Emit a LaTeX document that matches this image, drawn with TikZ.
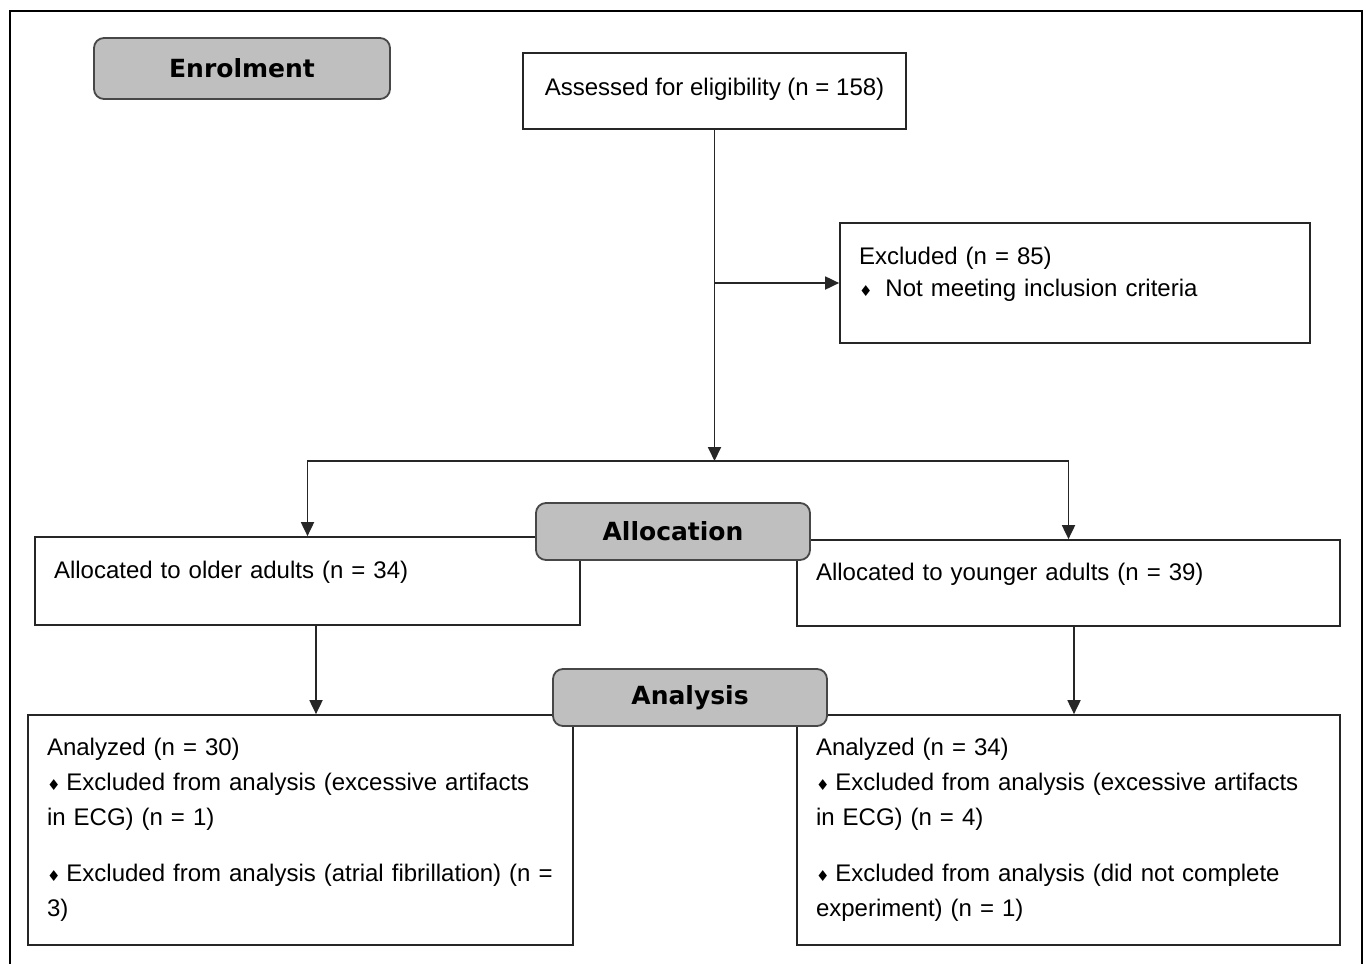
\documentclass[tikz,border=0pt]{standalone}
\usepackage{fontspec}
\setmainfont{Liberation Sans}
\newfontfamily\headfont{DejaVu Sans}
\newfontfamily\symfont{DejaVu Sans}
\usetikzlibrary{arrows.meta}
\definecolor{linegray}{HTML}{262626}
\definecolor{phasegray}{HTML}{BFBFBF}
\newcommand{\dmd}{{\symfont\fontsize{15}{15}\selectfont\raisebox{0.5pt}{\char"2666}}}

\begin{document}
\begin{tikzpicture}[
  x=1pt, y=-1pt,
  font=\fontsize{24}{35}\selectfont,
  >={Triangle[length=14pt,width=13pt]},
  box/.style={draw=linegray, line width=1.7pt, fill=white, align=left,
              inner xsep=19pt, inner ysep=0pt},
  phasebox/.style={draw=linegray!85, line width=1.8pt, fill=phasegray,
                   rounded corners=10pt, inner sep=0pt,
                   font=\headfont\bfseries\fontsize{25}{28}\selectfont},
  arr/.style={->, line width=1.8pt, linegray}
]
\useasboundingbox (0,0) rectangle (1366,964);
\draw[line width=2.4pt] (10,990) |- (1362,11) -- (1362,990);

\node[box, align=center, minimum width=383pt, minimum height=76pt, text depth=8pt]
  (assess) at (714.5,91) {Assessed for eligibility (n = 158)};

\node[box, minimum width=470pt, minimum height=120pt, text width=432pt,
      text depth=54pt, font=\fontsize{24}{32}\selectfont] (excl) at (1075,283)
  {Excluded (n = 85)\\ \dmd\hspace{13pt}Not meeting inclusion criteria};

\node[box, minimum width=545pt, minimum height=88pt, text width=507pt,
      text depth=22pt] (older) at (307.5,581)
  {Allocated to older adults (n = 34)};
\node[box, minimum width=543pt, minimum height=86pt, text width=505pt,
      text depth=22pt] (younger) at (1068.5,583)
  {Allocated to younger adults (n = 39)};

\node[box, minimum width=545pt, minimum height=230pt, text width=507pt]
  (anaL) at (300.5,830)
  {Analyzed (n = 30)\\
   \dmd\hspace{6pt}Excluded from analysis (excessive artifacts\\
   in ECG) (n = 1)\\[21pt]
   \dmd\hspace{6pt}Excluded from analysis (atrial fibrillation) (n =\\
   3)};
\node[box, minimum width=543pt, minimum height=230pt, text width=505pt]
  (anaR) at (1068.5,830)
  {Analyzed (n = 34)\\
   \dmd\hspace{6pt}Excluded from analysis (excessive artifacts\\
   in ECG) (n = 4)\\[21pt]
   \dmd\hspace{6pt}Excluded from analysis (did not complete\\
   experiment) (n = 1)};

\node[phasebox, minimum width=296pt, minimum height=61pt] (enrol) at (242,68.5) {Enrolment};
\node[phasebox, minimum width=274pt, minimum height=57pt] (alloc) at (673,531.5) {Allocation};
\node[phasebox, minimum width=274pt, minimum height=57pt] (anlys) at (690,697.5) {Analysis};

\coordinate (hline) at (0,461);
\coordinate (split) at (assess.south |- hline);
\coordinate (branch) at (assess.south |- excl.west);

\draw[arr] (assess) -- (split);
\draw[arr] (branch) -- (excl);
\draw[arr] (split) -| (older);
\draw[arr] (split) -| (younger);
\draw[arr] ([xshift=8.5pt]older.south) -- ([xshift=8.5pt]older.south |- anaL.north);
\draw[arr] ([xshift=5.5pt]younger.south) -- ([xshift=5.5pt]younger.south |- anaR.north);

\end{tikzpicture}
\end{document}
